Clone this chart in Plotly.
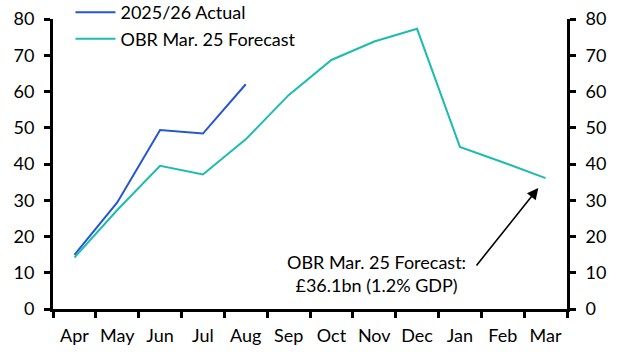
import plotly.graph_objects as go

months = ["Apr", "May", "Jun", "Jul", "Aug", "Sep", "Oct", "Nov", "Dec", "Jan", "Feb", "Mar"]
actual = [14.9, 29.4, 49.4, 48.4, 62.0]
forecast = [14.2, 27.3, 39.5, 37.1, 46.8, 59.0, 68.7, 73.8, 77.3, 44.7, 40.5, 36.1]
y_ticks = [0, 10, 20, 30, 40, 50, 60, 70, 80]

FONT = "Lato, 'Open Sans', sans-serif"
FS = 18
BLUE = "#2456d2"
TEAL = "#1dbcae"

fig = go.Figure()
fig.add_trace(go.Scatter(x=months[:len(actual)], y=actual, mode="lines",
                         name="2025/26 Actual", line=dict(color=BLUE, width=2)))
fig.add_trace(go.Scatter(x=months, y=forecast, mode="lines",
                         name="OBR Mar. 25 Forecast", line=dict(color=TEAL, width=2)))
# invisible trace for right axis
fig.add_trace(go.Scatter(x=months, y=forecast, yaxis="y2", mode="lines",
                         line=dict(color="rgba(0,0,0,0)"), showlegend=False, hoverinfo="skip"))

axis_common = dict(range=[0, 80], tickvals=y_ticks, ticks="outside", ticklen=6, tickwidth=2.5,
                   tickcolor="black", showline=True, linecolor="black", linewidth=3,
                   showgrid=False, zeroline=False, automargin=False, ticklabelstandoff=6,
                   tickfont=dict(family=FONT, size=FS, color="black"))

fig.update_layout(
    width=627, height=352,
    margin=dict(l=53, r=60, t=19, b=43, autoexpand=False),
    paper_bgcolor="white", plot_bgcolor="white",
    font=dict(family=FONT, size=FS, color="black"),
    xaxis=dict(type="category", categoryorder="array", categoryarray=months,
               range=[-0.5, 11.5], tickson="boundaries", ticks="outside", ticklen=6, tickwidth=2.5,
               tickcolor="black", showline=True, linecolor="black", linewidth=3, tickangle=0,
               showgrid=False, automargin=False, tickfont=dict(family=FONT, size=FS, color="black"),
               ticklabelstandoff=8),
    yaxis=dict(side="left", **axis_common),
    yaxis2=dict(side="right", overlaying="y", **axis_common),
    legend=dict(x=0.034, y=1.086, xanchor="left", yanchor="top", bgcolor="rgba(0,0,0,0)",
                font=dict(family=FONT, size=FS, color="black"), itemwidth=40, tracegroupgap=2),
    showlegend=True,
)

fig.add_annotation(x=10.83, y=33.4, xref="x", yref="y", ax=-63, ay=79, axref="pixel", ayref="pixel",
                   showarrow=True, arrowhead=2, arrowsize=1.4, arrowwidth=1.6, arrowcolor="black",
                   text="")
fig.add_annotation(x=7.05, y=9.8, xref="x", yref="y", xanchor="center", yanchor="middle",
                   text="OBR Mar. 25 Forecast:<br>£36.1bn (1.2% GDP)", showarrow=False,
                   align="center", font=dict(family=FONT, size=FS, color="black"))

fig.write_html("out.html")
